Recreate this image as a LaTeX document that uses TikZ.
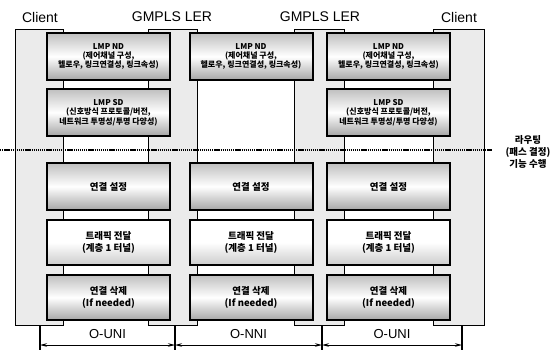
\documentclass[tikz,border=0pt]{standalone}
\usepackage{fontspec}
\setmainfont{Liberation Sans}
\newfontfamily\cjk{Noto Sans CJK KR}
\usetikzlibrary{arrows.meta}
\tikzset{
  devcol/.style={fill=gray!16, draw=black, line width=1pt},
  layerbox/.style={draw=black, line width=2pt, minimum width=123pt, minimum height=47pt,
    top color=gray!50, bottom color=gray!70, middle color=white, align=center,
    inner sep=1pt, font=\cjk\bfseries\fontsize{8}{9.4}\selectfont},
  bigbox/.style={layerbox, font=\cjk\bfseries\fontsize{9.5}{12.5}\selectfont},
  lightbox/.style={bigbox, minimum height=45pt, top color=white, bottom color=gray!40, middle color=white},
  devlabel/.style={font=\fontsize{14}{16}\selectfont},
  iflabel/.style={font=\fontsize{13}{14}\selectfont},
  sidelabel/.style={align=center, font=\cjk\bfseries\fontsize{9.5}{12}\selectfont},
  dimarrow/.style={line width=0.8pt, {Stealth[length=7pt,width=3.5pt]}-{Stealth[length=7pt,width=3.5pt]}},
  tickline/.style={line width=1.2pt},
  routeline/.style={line width=1.4pt, dash pattern=on 1.3pt off 0.8pt}
}
\begin{document}
\begin{tikzpicture}[x=1pt,y=-1pt]
\useasboundingbox (0,0) rectangle (554,351);
% device columns
\draw[devcol] (15,29) rectangle (63,325);
\draw[devcol] (148,29) rectangle (197,325);
\draw[devcol] (294,29) rectangle (344,325);
\draw[devcol] (433,29) rectangle (484,325);
% routing boundary
\coordinate (rl) at (0,150);
\coordinate (rr) at (492,150);
\draw[routeline] (rl) -- (rr);
% left stack
\node[layerbox] (ndL) at (108.5,56.5) {LMP ND\\(제어채널 구성,\\헬로우, 링크연결성, 링크속성)};
\node[layerbox] (sdL) at (108.5,112.5) {LMP SD\\(신호방식 프로토콜/버전,\\네트워크 투명성/투명 다양성)};
\node[bigbox] (csL) at (108.5,186.5) {연결 설정};
\node[lightbox] (tfL) at (108.5,242.5) {트래픽 전달\\(계층 1 터널)};
\node[bigbox, minimum height=45pt] (rmL) at (108.5,297.5) {연결 삭제\\(If needed)};
% middle stack
\node[layerbox] (ndM) at (251,56.5) {LMP ND\\(제어채널 구성,\\헬로우, 링크연결성, 링크속성)};
\node[bigbox] (csM) at (251,186.5) {연결 설정};
\node[lightbox] (tfM) at (251,242.5) {트래픽 전달\\(계층 1 터널)};
\node[bigbox, minimum height=45pt] (rmM) at (251,297.5) {연결 삭제\\(If needed)};
% right stack
\node[layerbox] (ndR) at (388.5,56.5) {LMP ND\\(제어채널 구성,\\헬로우, 링크연결성, 링크속성)};
\node[layerbox] (sdR) at (388.5,112.5) {LMP SD\\(신호방식 프로토콜/버전,\\네트워크 투명성/투명 다양성)};
\node[bigbox] (csR) at (388.5,186.5) {연결 설정};
\node[lightbox] (tfR) at (388.5,242.5) {트래픽 전달\\(계층 1 터널)};
\node[bigbox, minimum height=45pt] (rmR) at (388.5,297.5) {연결 삭제\\(If needed)};
% device labels
\node[devlabel] (c1) at (40,17) {Client};
\node[devlabel] (l1) at (172,17) {GMPLS LER};
\node[devlabel] (l2) at (320,17) {GMPLS LER};
\node[devlabel] (c2) at (459,17) {Client};
% side label
\node[sidelabel] (route) at (528,152) {라우팅\\(패스 결정)\\기능 수행};
% interface dimension lines
\coordinate (t1a) at (40,325); \coordinate (t1b) at (40,350);
\coordinate (t2a) at (175,325); \coordinate (t2b) at (175,350);
\coordinate (t3a) at (322,325); \coordinate (t3b) at (322,350);
\coordinate (t4a) at (462,325); \coordinate (t4b) at (462,350);
\draw[tickline] (t1a) -- (t1b);
\draw[tickline] (t2a) -- (t2b);
\draw[tickline] (t3a) -- (t3b);
\draw[tickline] (t4a) -- (t4b);
\coordinate (a1) at (40,345); \coordinate (a2) at (175,345);
\coordinate (a3) at (322,345); \coordinate (a4) at (462,345);
\draw[dimarrow] (a1) -- (a2);
\draw[dimarrow] (a2) -- (a3);
\draw[dimarrow] (a3) -- (a4);
\node[iflabel] (u1) at (107.5,334) {O-UNI};
\node[iflabel] (n1) at (248.5,334) {O-NNI};
\node[iflabel] (u2) at (392,334) {O-UNI};
\end{tikzpicture}
\end{document}
